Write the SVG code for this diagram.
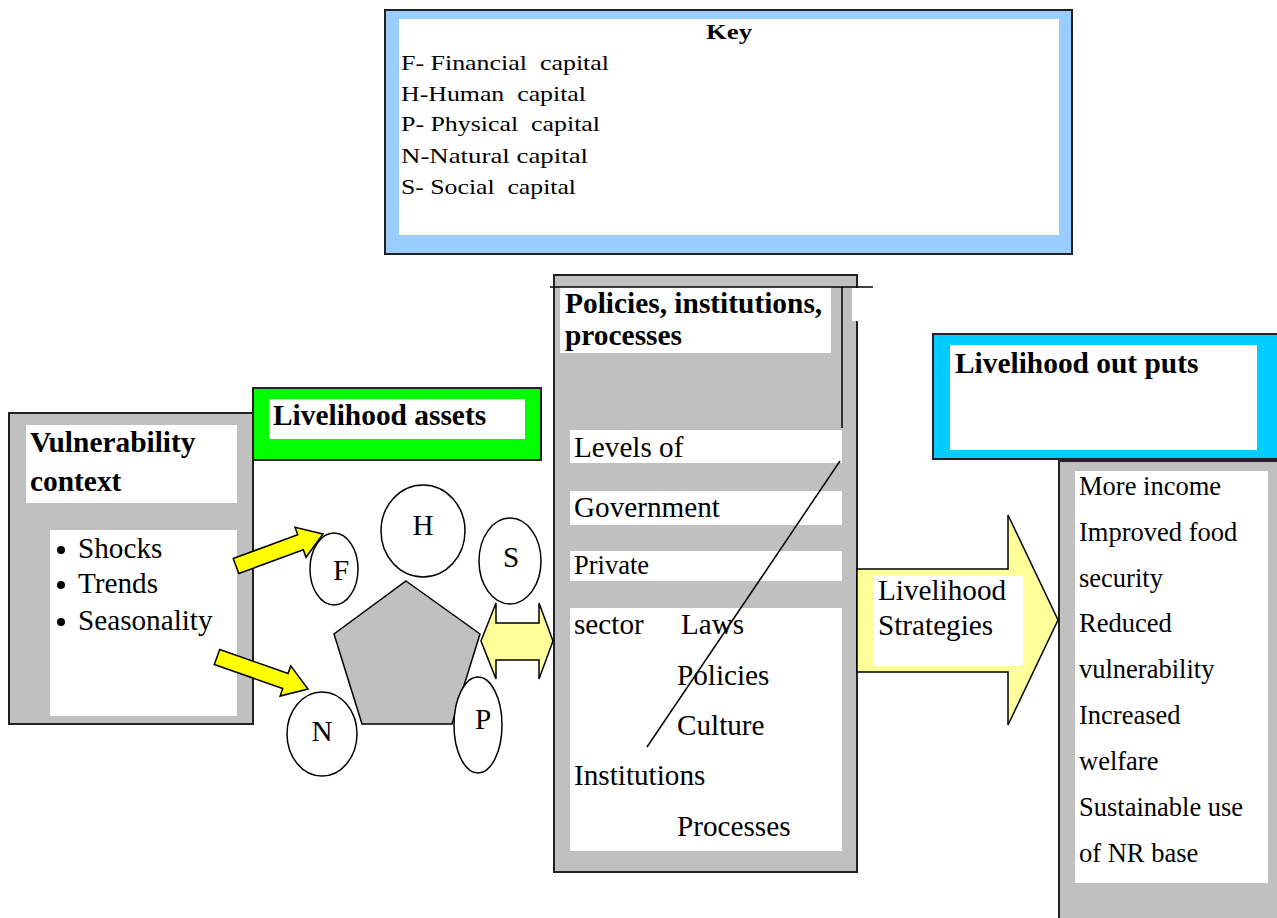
<svg xmlns="http://www.w3.org/2000/svg" width="1277" height="918" viewBox="0 0 1277 918">
<style>
.t{font-family:"Liberation Serif","Times New Roman",serif;fill:#000}
.b{font-weight:bold;font-size:29.4px}
.r{font-size:29.2px}
.s{font-size:26.5px}
.k{font-size:22px}
.box{stroke:#222;stroke-width:2}
.grey{fill:#C0C0C0}
.white{fill:#fff}
.circ{fill:#fff;stroke:#000;stroke-width:1.5}
.arrow{fill:#FFFF00;stroke:#000;stroke-width:1.5}
.larrow{fill:#FFFF99;stroke:#000;stroke-width:1.5}
</style>
<rect width="1277" height="918" fill="#fff"/>
<g id="key">
<rect x="385" y="10" width="687" height="244" fill="#99CCFF" class="box"/>
<rect x="399" y="19" width="660" height="216" class="white"/>
<text x="706" y="39" class="t" style="font-weight:bold;font-size:22px" textLength="46" lengthAdjust="spacingAndGlyphs">Key</text>
<text x="401" y="70" class="t k" xml:space="preserve" textLength="208" lengthAdjust="spacingAndGlyphs">F- Financial  capital</text>
<text x="401" y="101" class="t k" xml:space="preserve" textLength="185" lengthAdjust="spacingAndGlyphs">H-Human  capital</text>
<text x="401" y="131" class="t k" xml:space="preserve" textLength="199" lengthAdjust="spacingAndGlyphs">P- Physical  capital</text>
<text x="401" y="163" class="t k" xml:space="preserve" textLength="187" lengthAdjust="spacingAndGlyphs">N-Natural capital</text>
<text x="401" y="194" class="t k" xml:space="preserve" textLength="175" lengthAdjust="spacingAndGlyphs">S- Social  capital</text>
</g>
<g id="vulnerability">
<rect x="9" y="413" width="244" height="311" class="grey box"/>
<rect x="26" y="425" width="211" height="78" class="white"/>
<text x="30" y="452" class="t b">Vulnerability</text>
<text x="30" y="491" class="t b">context</text>
<rect x="50" y="530" width="187" height="186" class="white"/>
<circle cx="61" cy="550" r="4"/>
<circle cx="61" cy="585" r="4"/>
<circle cx="61" cy="622" r="4"/>
<text x="78" y="558" class="t r">Shocks</text>
<text x="78" y="593" class="t r">Trends</text>
<text x="78" y="630" class="t r">Seasonality</text>
</g>
<g id="assets">
<rect x="253" y="388" width="288" height="72" fill="#00FF00" class="box"/>
<rect x="269" y="399" width="256" height="40" class="white"/>
<text x="273" y="425" class="t b">Livelihood assets</text>
<polygon points="406,581 480,634 452,724 362,724 334,634" fill="#C0C0C0" stroke="#000" stroke-width="1.5"/>
</g>
<g id="circle-H"><ellipse cx="423" cy="531" rx="42" ry="46" class="circ"/><text x="423" y="535" text-anchor="middle" class="t r">H</text></g>
<g id="circle-F"><ellipse cx="334" cy="569" rx="24" ry="36" class="circ"/><text x="341" y="580" text-anchor="middle" class="t r">F</text></g>
<g id="circle-S"><ellipse cx="510" cy="561" rx="31" ry="43" class="circ"/><text x="511" y="567" text-anchor="middle" class="t r">S</text></g>
<g id="circle-N"><ellipse cx="322" cy="734" rx="35" ry="42" class="circ"/><text x="322" y="741" text-anchor="middle" class="t r">N</text></g>
<g id="circle-P"><ellipse cx="478" cy="725" rx="24" ry="48" class="circ"/><text x="483" y="729" text-anchor="middle" class="t r">P</text></g>
<g id="policies">
<rect x="554" y="275" width="303" height="597" class="grey box"/>
<rect x="560" y="287" width="271" height="66" class="white"/>
<rect x="852" y="288" width="6" height="33" class="white"/>
<text x="565" y="313" class="t b">Policies, institutions,</text>
<text x="565" y="345" class="t b">processes</text>
<rect x="570" y="430" width="272" height="33" class="white"/>
<rect x="570" y="491" width="272" height="34" class="white"/>
<rect x="570" y="551" width="272" height="30" class="white"/>
<rect x="570" y="608" width="272" height="243" class="white"/>
<text x="574" y="457" class="t r">Levels of</text>
<text x="574" y="517" class="t r">Government</text>
<text x="574" y="574" class="t s">Private</text>
<text x="574" y="634" class="t r">sector</text>
<text x="681" y="634" class="t r">Laws</text>
<text x="677" y="685" class="t r">Policies</text>
<text x="677" y="735" class="t r">Culture</text>
<text x="574" y="785" class="t r">Institutions</text>
<text x="677" y="836" class="t r">Processes</text>
</g>
<g id="outputs">
<rect x="933" y="334" width="350" height="125" fill="#00CCFF" class="box"/>
<rect x="950" y="345" width="307" height="105" class="white"/>
<text x="955" y="373" class="t b">Livelihood out puts</text>
<rect x="1059" y="461" width="230" height="470" class="grey box"/>
<rect x="1075" y="471" width="193" height="412" class="white"/>
<text x="1079" y="495" class="t s">More income</text>
<text x="1079" y="541" class="t s">Improved food</text>
<text x="1079" y="587" class="t s">security</text>
<text x="1079" y="632" class="t s">Reduced</text>
<text x="1079" y="678" class="t s">vulnerability</text>
<text x="1079" y="724" class="t s">Increased</text>
<text x="1079" y="770" class="t s">welfare</text>
<text x="1079" y="816" class="t s">Sustainable use</text>
<text x="1079" y="862" class="t s">of NR base</text>
</g>
<g id="connectors">
<polygon class="arrow" points="233.2,558.5 297.7,534.8 295,527.3 323,534 306,557.3 303.3,549.8 238.8,573.5"/>
<polygon class="arrow" points="219.7,649.5 288.1,673.5 290.7,665.9 308,689 280.1,696.1 282.7,688.5 214.3,664.5"/>
<polygon class="larrow" points="481,641 496,603 496,623 539,623 539,603 553,641 539,679 539,660 496,660 496,679"/>
<polygon class="larrow" points="857,569 1008,569 1008,515 1058,620 1008,725 1008,672 857,672"/>
<line x1="550" y1="287" x2="873" y2="287" stroke="#000" stroke-width="1.5"/>
<line x1="842" y1="287" x2="842" y2="428" stroke="#000" stroke-width="1.5"/>
<line x1="840" y1="461" x2="647" y2="747" stroke="#000" stroke-width="1.5"/>
</g>
<g id="strategies">
<rect x="874" y="576" width="149" height="90" class="white"/>
<text x="878" y="600" class="t r">Livelihood</text>
<text x="878" y="635" class="t r">Strategies</text>
</g>
</svg>
